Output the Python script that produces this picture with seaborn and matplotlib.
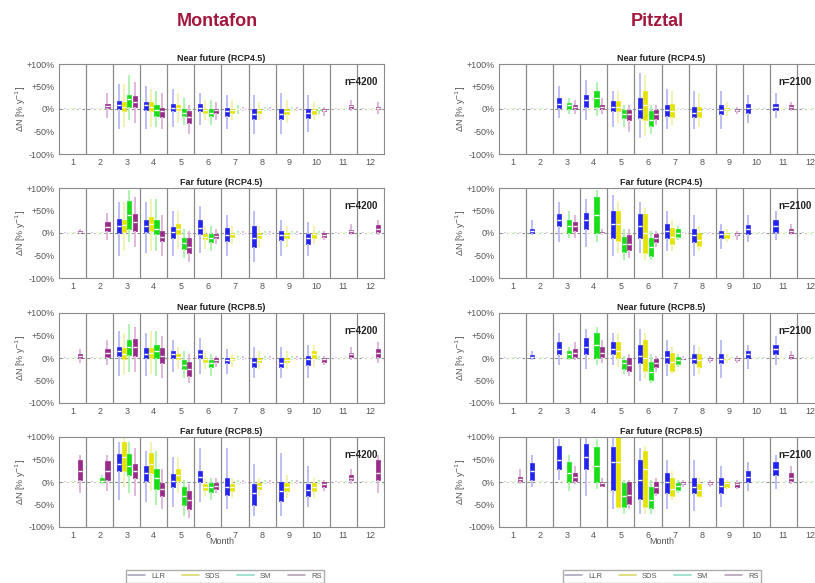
import numpy as np
import pandas as pd
import matplotlib
matplotlib.use("Agg")
import matplotlib.pyplot as plt
from matplotlib.lines import Line2D
import seaborn as sns

# ---------------- data ----------------
months = [1, 2, 3, 4, 5, 6, 7, 8, 9, 10, 11, 12]
methods = ["LLR", "SDS", "SM", "RS"]
regions = ["Montafon", "Pitztal"]
sample_sizes = ["n=4200", "n=2100"]
panel_titles = ["Near future (RCP4.5)", "Far future (RCP4.5)",
                "Near future (RCP8.5)", "Far future (RCP8.5)"]
ytick_vals = [-100, -50, 0, 50, 100]
ytick_labels = ["-100%", "-50%", "0%", "+50%", "+100%"]

# each entry: (whisker low, q1, median, q3, whisker high) in % per month
mont_nf45_llr = [(-3,-1,0,1,3), (-3,-1,0,1,3), (-45,0,8,18,55), (-45,-3,8,15,50), (-40,-5,3,12,45), (-35,-5,3,12,35),
                 (-45,-15,-5,2,30), (-55,-22,-10,0,30), (-55,-22,-10,0,35), (-50,-20,-8,0,30), (-3,-1,0,1,3), (-3,-1,0,1,3)]
mont_nf45_sds = [(-2,-1,0,1,2), (-2,-1,0,1,2), (-40,-5,5,15,55), (-40,-5,5,15,45), (-30,-2,3,10,35), (-25,-8,-3,0,20),
                 (-25,-8,-3,0,20), (-25,-8,-3,0,15), (-30,-12,-5,0,20), (-25,-10,-3,0,15), (-2,-1,0,1,2), (-2,-1,0,1,2)]
mont_nf45_sm = [(-2,-1,0,1,2), (-2,-1,0,1,2), (-25,4,22,30,75), (-40,-15,-2,8,40), (-35,-15,-8,0,25), (-35,-15,-8,0,20),
                (-10,-1,0,1,8), (-5,-1,0,1,5), (-5,-1,0,1,5), (-10,-2,0,0,5), (-2,-1,0,1,2), (-2,-1,0,1,2)]
mont_nf45_rs = [(-3,-1,0,1,3), (-20,2,6,12,35), (-30,4,15,28,60), (-45,-18,-5,3,35), (-55,-30,-18,-5,10), (-25,-8,-3,0,15),
                (-5,-1,0,1,5), (-5,-1,0,1,5), (-5,-1,0,1,5), (-15,-5,-2,0,5), (-5,2,6,8,20), (-10,0,2,5,15)]

mont_ff45_llr = [(-3,-1,0,1,3), (-3,-1,0,1,3), (-50,0,15,32,70), (-45,2,15,30,70), (-50,-10,2,13,50), (-45,-2,12,28,60),
                 (-50,-18,-5,12,40), (-65,-30,-10,15,50), (-50,-15,-5,5,30), (-50,-25,-12,-3,25), (-3,-1,0,1,3), (-3,-1,0,1,3)]
mont_ff45_sds = [(-2,-1,0,1,2), (-2,-1,0,1,2), (-40,2,18,30,70), (-40,5,20,35,75), (-35,-3,8,20,50), (-35,-13,-8,-2,15),
                 (-25,-8,-3,0,15), (-30,-12,-5,0,15), (-30,-12,-5,0,15), (-25,-10,-3,0,15), (-2,-1,0,1,2), (-2,-1,0,1,2)]
mont_ff45_sm = [(-2,-1,0,1,2), (-2,-1,0,1,2), (-20,8,40,72,95), (-40,-3,10,30,75), (-55,-35,-22,-10,10), (-40,-20,-12,-3,15),
                (-5,-1,0,1,5), (-5,-1,0,1,5), (-5,-1,0,1,5), (-5,-1,0,1,5), (-2,-1,0,1,2), (-2,-1,0,1,2)]
mont_ff45_rs = [(-3,0,2,4,8), (-15,5,14,25,45), (-30,5,25,42,80), (-50,-18,-8,5,40), (-65,-45,-30,-12,5), (-25,-12,-6,-2,10),
                (-5,-1,0,1,5), (-5,-1,0,1,5), (-5,-1,0,1,5), (-15,-8,-4,0,5), (-5,1,4,7,20), (-5,3,10,18,30)]

mont_nf85_llr = [(-3,-1,0,1,3), (-3,-1,0,1,3), (-40,5,15,25,60), (-40,0,10,22,55), (-30,0,8,15,40), (-35,0,10,18,45),
                 (-35,-12,-5,0,20), (-45,-20,-8,0,25), (-45,-20,-10,0,25), (-45,-15,-3,5,30), (-3,-1,0,1,3), (-3,-1,0,1,3)]
mont_nf85_sds = [(-2,-1,0,1,2), (-2,-1,0,1,2), (-35,-3,10,22,55), (-35,0,12,22,60), (-25,-2,3,8,25), (-25,-8,-3,0,15),
                 (-20,-5,-3,0,10), (-25,-8,-5,0,15), (-25,-8,-4,0,15), (-20,0,8,15,30), (-2,-1,0,1,2), (-2,-1,0,1,2)]
mont_nf85_sm = [(-2,-1,0,1,2), (-2,-1,0,1,2), (-30,6,25,40,75), (-40,0,15,28,60), (-45,-25,-15,-5,15), (-40,-20,-12,-5,10),
                (-5,-1,0,1,5), (-5,-1,0,1,5), (-5,-1,0,1,5), (-5,-1,0,1,5), (-2,-1,0,1,2), (-2,-1,0,1,2)]
mont_nf85_rs = [(-10,1,5,9,20), (-15,3,12,20,40), (-30,5,25,42,70), (-45,-12,5,22,50), (-55,-40,-25,-8,10), (-20,-8,-4,0,5),
                (-5,-1,0,1,5), (-5,-1,0,1,5), (-5,-1,0,1,5), (-15,-8,-3,0,5), (-5,3,8,12,25), (-10,3,12,20,35)]

mont_ff85_llr = [(-3,-1,0,1,3), (-3,-1,0,1,3), (-40,25,40,62,90), (-45,3,20,35,70), (-55,-12,3,18,55), (-45,0,12,25,75),
                 (-60,-28,-10,10,75), (-75,-50,-25,-5,40), (-75,-42,-20,0,65), (-55,-32,-18,-5,35), (-3,-1,0,1,3), (-3,-1,0,1,3)]
mont_ff85_sds = [(-2,-1,0,1,2), (-2,-1,0,1,2), (-10,25,55,88,100), (-20,20,40,65,90), (-25,3,15,28,55), (-30,-18,-12,-5,10),
                 (-35,-20,-12,-5,10), (-30,-15,-8,-3,10), (-35,-20,-10,-3,15), (-35,-20,-12,-3,10), (-2,-1,0,1,2), (-2,-1,0,1,2)]
mont_ff85_sm = [(-2,-1,0,1,2), (-5,0,3,8,15), (-25,15,35,62,90), (-50,-15,10,30,70), (-75,-50,-30,-10,5), (-40,-22,-12,-3,10),
                (-5,-1,0,1,5), (-5,-1,0,1,5), (-5,-1,0,1,5), (-5,-1,0,1,5), (-2,-1,0,1,2), (-2,-1,0,1,2)]
mont_ff85_rs = [(-25,5,25,48,60), (-20,5,25,47,60), (-30,10,25,40,75), (-60,-32,-15,-2,30), (-80,-60,-40,-20,-5), (-25,-15,-8,-2,10),
                (-5,-1,0,1,5), (-5,-1,0,1,5), (-5,-1,0,1,5), (-20,-10,-5,0,5), (-5,5,10,15,30), (-25,5,20,48,60)]

pitz_nf45_llr = [(-2,-1,0,1,2), (-2,-1,0,1,2), (-20,3,12,24,50), (-25,5,20,32,65), (-40,-5,5,17,40), (-65,-20,0,25,80),
                 (-45,-15,-2,10,45), (-45,-18,-8,5,40), (-45,-12,-3,8,40), (-30,-8,3,12,30), (-20,-2,5,12,35), (-2,-1,0,1,2)]
pitz_nf45_sds = [(-2,-1,0,1,2), (-2,-1,0,1,2), (-2,-1,0,1,2), (-2,-1,0,1,2), (-30,-5,5,17,40), (-60,-25,10,40,75),
                 (-35,-18,-5,12,40), (-40,-18,-5,5,35), (-15,-3,0,3,15), (-2,-1,0,1,2), (-2,-1,0,1,2), (-2,-1,0,1,2)]
pitz_nf45_sm = [(-2,-1,0,1,2), (-2,-1,0,1,2), (-10,0,8,14,25), (-15,5,25,40,60), (-40,-20,-10,-3,10), (-55,-38,-25,-5,10),
                (-2,-1,0,1,2), (-2,-1,0,1,2), (-2,-1,0,1,2), (-2,-1,0,1,2), (-2,-1,0,1,2), (-2,-1,0,1,2)]
pitz_nf45_rs = [(-2,-1,0,1,2), (-2,-1,0,1,2), (-10,0,5,10,20), (-10,0,5,10,25), (-50,-25,-12,-2,10), (-35,-22,-10,-2,10),
                (-2,-1,0,1,2), (-2,-1,0,1,2), (-10,-5,-2,0,5), (-2,-1,0,1,2), (-5,0,4,8,15), (-2,-1,0,1,2)]

pitz_ff45_llr = [(-2,-1,0,1,2), (-5,0,4,8,30), (-20,15,28,42,70), (-30,10,28,45,75), (-50,-10,20,48,85), (-45,-12,15,42,70),
                 (-40,-12,5,20,50), (-50,-20,-5,8,40), (-35,-12,-3,5,20), (-20,-2,8,17,40), (-15,3,15,28,50), (-2,-1,0,1,2)]
pitz_ff45_sds = [(-2,-1,0,1,2), (-2,-1,0,1,2), (-2,-1,0,1,2), (-2,-1,0,1,2), (-45,-18,20,50,70), (-60,-45,0,42,55),
                 (-40,-25,-8,12,30), (-40,-28,-15,0,15), (-20,-10,-3,0,10), (-2,-1,0,1,2), (-2,-1,0,1,2), (-2,-1,0,1,2)]
pitz_ff45_sm = [(-2,-1,0,1,2), (-2,-1,0,1,2), (-10,0,15,30,50), (-20,0,40,80,95), (-60,-42,-25,-8,10), (-60,-50,-30,-10,5),
                (-15,-8,0,8,15), (-2,-1,0,1,2), (-2,-1,0,1,2), (-2,-1,0,1,2), (-2,-1,0,1,2), (-2,-1,0,1,2)]
pitz_ff45_rs = [(-2,-1,0,1,2), (-2,-1,0,1,2), (-10,5,15,25,40), (-5,0,0,2,10), (-55,-38,-25,-5,10), (-30,-20,-10,-3,5),
                (-2,-1,0,1,2), (-2,-1,0,1,2), (-15,-5,-2,0,5), (-2,-1,0,1,2), (-5,0,5,10,20), (-2,-1,0,1,2)]

pitz_nf85_llr = [(-2,-1,0,1,2), (-5,0,3,7,15), (-15,8,20,35,55), (-25,8,25,45,65), (-15,8,20,35,55), (-50,-12,5,28,65),
                 (-40,-12,2,15,40), (-40,-12,-3,8,30), (-45,-12,-3,8,40), (-25,0,8,15,30), (-15,8,20,30,50), (-2,-1,0,1,2)]
pitz_nf85_sds = [(-2,-1,0,1,2), (-2,-1,0,1,2), (-2,-1,0,1,2), (-2,-1,0,1,2), (-20,0,15,35,55), (-45,-28,0,40,55),
                 (-35,-28,-8,12,25), (-35,-20,-5,8,25), (-10,-3,0,0,10), (-2,-1,0,1,2), (-2,-1,0,1,2), (-2,-1,0,1,2)]
pitz_nf85_sm = [(-2,-1,0,1,2), (-2,-1,0,1,2), (-5,0,8,15,25), (-15,0,30,55,70), (-35,-25,-12,-5,5), (-55,-48,-30,-8,10),
                (-20,-14,-5,2,10), (-2,-1,0,1,2), (-2,-1,0,1,2), (-2,-1,0,1,2), (-2,-1,0,1,2), (-2,-1,0,1,2)]
pitz_nf85_rs = [(-2,-1,0,1,2), (-2,-1,0,1,2), (-5,3,12,20,35), (-10,3,12,25,40), (-40,-28,-15,0,10), (-30,-20,-10,-2,5),
                (-5,-3,0,0,5), (-10,-4,-2,0,5), (-10,-5,-2,0,5), (-2,-1,0,1,2), (-5,0,4,6,15), (-2,-1,0,1,2)]

pitz_ff85_llr = [(-2,-1,0,1,2), (-10,5,25,43,60), (5,30,50,80,95), (-30,30,55,85,100), (-60,-18,45,78,100), (-70,-38,5,50,75),
                 (-60,-25,0,20,50), (-65,-25,-10,10,50), (-55,-25,-8,8,35), (-20,0,12,25,45), (-15,15,30,45,60), (-2,-1,0,1,2)]
pitz_ff85_sds = [(-2,-1,0,1,2), (-2,-1,0,1,2), (-2,-1,0,1,2), (-2,-1,0,1,2), (-60,-55,45,100,100), (-70,-55,30,70,80),
                 (-40,-32,-15,8,25), (-35,-30,-18,-5,10), (-15,-10,-3,0,5), (-2,-1,0,1,2), (-2,-1,0,1,2), (-2,-1,0,1,2)]
pitz_ff85_sm = [(-2,-1,0,1,2), (-2,-1,0,1,2), (-20,0,20,45,60), (-15,0,35,78,95), (-70,-55,-30,-2,5), (-70,-58,-40,-10,5),
                (-25,-18,-8,-2,5), (-2,-1,0,1,2), (-2,-1,0,1,2), (-2,-1,0,1,2), (-2,-1,0,1,2), (-2,-1,0,1,2)]
pitz_ff85_rs = [(-5,2,7,12,30), (-2,-1,0,1,2), (-5,3,12,20,35), (-10,-8,-3,0,10), (-60,-48,-28,0,5), (-30,-25,-10,0,10),
                (-10,-5,-2,0,5), (-10,-5,-2,0,5), (-15,-12,-5,-2,5), (-2,-1,0,1,2), (-5,2,10,20,35), (-2,-1,0,1,2)]

# ---------------- styling ----------------
box_colors = ["#2323EE", "#E4E400", "#18DE18", "#982A8A"]
whisker_colors = ["#BEBEF8", "#F2F2B0", "#B0F2B0", "#E0B8DA"]
legend_colors = ["#A8A8BE", "#D8D870", "#90DCC8", "#B8A0B8"]
title_color = "#A3173D"
dodge_offsets = [-0.29, -0.1, 0.1, 0.29]
n_text_x = [0.98, 0.962]

panels = {
    "Montafon": [
        dict(zip(methods, [mont_nf45_llr, mont_nf45_sds, mont_nf45_sm, mont_nf45_rs])),
        dict(zip(methods, [mont_ff45_llr, mont_ff45_sds, mont_ff45_sm, mont_ff45_rs])),
        dict(zip(methods, [mont_nf85_llr, mont_nf85_sds, mont_nf85_sm, mont_nf85_rs])),
        dict(zip(methods, [mont_ff85_llr, mont_ff85_sds, mont_ff85_sm, mont_ff85_rs])),
    ],
    "Pitztal": [
        dict(zip(methods, [pitz_nf45_llr, pitz_nf45_sds, pitz_nf45_sm, pitz_nf45_rs])),
        dict(zip(methods, [pitz_ff45_llr, pitz_ff45_sds, pitz_ff45_sm, pitz_ff45_rs])),
        dict(zip(methods, [pitz_nf85_llr, pitz_nf85_sds, pitz_nf85_sm, pitz_nf85_rs])),
        dict(zip(methods, [pitz_ff85_llr, pitz_ff85_sds, pitz_ff85_sm, pitz_ff85_rs])),
    ],
}

sns.set_theme(style="white")
plt.rcParams["font.family"] = ["Liberation Sans", "DejaVu Sans"]

W, H = 815, 583
fig = plt.figure(figsize=(W / 100, H / 100), dpi=100)

col_left_px = [59, 499]
ax_w_px = 325
row_top_px = [64, 188, 313, 437]
ax_h_px = 90
month_labels = [str(m) for m in months]

for ci, region in enumerate(regions):
    for ri in range(4):
        left = col_left_px[ci] / W
        bottom = (H - row_top_px[ri] - ax_h_px) / H
        ax = fig.add_axes([left, bottom, ax_w_px / W, ax_h_px / H])
        stats = panels[region][ri]
        ax.axhline(0, color="#909090", ls=(0, (3, 2)), lw=0.8, zorder=1)
        for mi, method in enumerate(methods):
            rows = [(i + dodge_offsets[mi], v)
                    for i, tup in enumerate(stats[method]) for v in tup]
            df = pd.DataFrame(rows, columns=["pos", "value"])
            sns.boxplot(data=df, x="pos", y="value", native_scale=True,
                        orient="x", color=box_colors[mi], saturation=1,
                        whis=(0, 100), width=0.15,
                        linecolor=box_colors[mi], linewidth=0.5,
                        showcaps=False, showfliers=False,
                        medianprops=dict(color="white", linewidth=1.0),
                        whiskerprops=dict(color=whisker_colors[mi], linewidth=1.4),
                        ax=ax)
        for b in np.arange(0.5, 11.5, 1.0):
            ax.axvline(b, color="#8A8A8A", lw=0.9, zorder=0.5)
        ax.set_xlim(-0.5, 11.5)
        ax.set_ylim(-100, 100)
        ax.set_yticks(ytick_vals)
        ax.set_yticklabels(ytick_labels)
        ax.set_xticks(range(12))
        ax.set_xticklabels(month_labels)
        ax.tick_params(axis="both", labelsize=6.5, colors="#555555", length=2,
                       direction="in", pad=3)
        for sp in ax.spines.values():
            sp.set_color("#8A8A8A")
            sp.set_linewidth(0.8)
        ax.set_title(panel_titles[ri], fontsize=6.5, fontweight="bold", pad=2,
                     color="#222222")
        ax.set_ylabel("ΔN [% y$^{-1}$]", fontsize=6.5, color="#555555", labelpad=-1)
        if ri == 3:
            ax.set_xlabel("Month", fontsize=6.5, color="#555555", labelpad=-2)
        else:
            ax.set_xlabel("")
        ax.text(n_text_x[ci], 0.80, sample_sizes[ci], transform=ax.transAxes,
                ha="right", va="center", fontsize=7, fontweight="bold",
                color="#222222")

    # column title
    fig.text((col_left_px[ci] + 158) / W, 1 - 22 / H, region, ha="center",
             va="center", fontsize=13, fontweight="bold", color=title_color,
             family=["Liberation Sans Narrow", "Liberation Sans", "DejaVu Sans"])

    handles = [Line2D([0], [0], color=c, lw=1.2) for c in legend_colors]
    centers = [225, 662]
    fig.legend(handles, methods, loc="upper center",
               bbox_to_anchor=(centers[ci] / W, 1 - 566 / H), ncol=4,
               fontsize=5.5, frameon=True, fancybox=False, edgecolor="#999999",
               handlelength=2.2, columnspacing=2.2, borderpad=0.35,
               labelcolor="#555555")

fig.savefig("out.png", dpi=100)
